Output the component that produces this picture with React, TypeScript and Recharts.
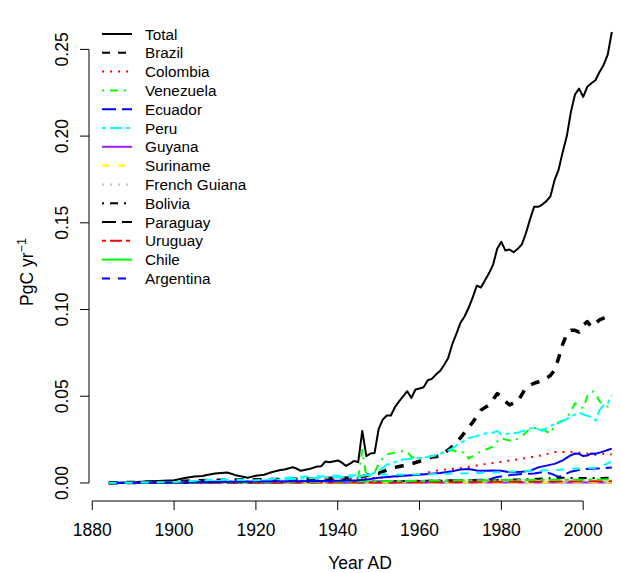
import { LineChart, Line, XAxis, YAxis, ReferenceLine, Legend } from "recharts";

const FONT = '"Liberation Sans", Arial, Helvetica, sans-serif';

// axis ticks
const xTicks = [1880, 1900, 1920, 1940, 1960, 1980, 2000];
const yTicks = [0, 0.05, 0.1, 0.15, 0.2, 0.25];

// series, [year, PgC/yr]
const total = [
  [1884, 0], [1888, 0.0003], [1892, 0.0007], [1896, 0.0011], [1900, 0.0016], [1903, 0.003],
  [1905, 0.0037], [1907, 0.004], [1908, 0.0046], [1910, 0.0054], [1913, 0.006], [1915, 0.0045],
  [1916, 0.004], [1918, 0.003], [1920, 0.0042], [1922, 0.0047], [1924, 0.0063], [1926, 0.0075],
  [1927, 0.0078], [1929, 0.0091], [1930, 0.0082], [1931, 0.007], [1933, 0.008], [1935, 0.0095],
  [1936, 0.0097], [1937, 0.0124], [1938, 0.012], [1940, 0.013], [1941, 0.0118], [1942, 0.0098],
  [1943, 0.0112], [1944, 0.0127], [1945, 0.012], [1946, 0.03], [1947, 0.0155], [1948, 0.017],
  [1949, 0.0173], [1950, 0.031], [1951, 0.0365], [1952, 0.0389], [1953, 0.0389], [1954, 0.0438],
  [1955, 0.047], [1956, 0.05], [1957, 0.0529], [1958, 0.049], [1959, 0.0539], [1960, 0.0545],
  [1961, 0.0552], [1962, 0.0592], [1963, 0.06], [1964, 0.0625], [1965, 0.0645], [1966, 0.068],
  [1967, 0.072], [1968, 0.08], [1969, 0.086], [1970, 0.0923], [1971, 0.096], [1972, 0.101],
  [1973, 0.107], [1974, 0.1138], [1975, 0.1127], [1976, 0.1169], [1977, 0.121], [1978, 0.126],
  [1979, 0.1352], [1980, 0.139], [1981, 0.134], [1982, 0.1346], [1983, 0.133], [1984, 0.135],
  [1985, 0.1375], [1986, 0.144], [1987, 0.152], [1988, 0.1592], [1989, 0.1592], [1990, 0.1605],
  [1991, 0.1625], [1992, 0.1653], [1993, 0.1746], [1994, 0.1807], [1995, 0.1909], [1996, 0.2],
  [1997, 0.214], [1998, 0.224], [1999, 0.2274], [2000, 0.2226], [2001, 0.2284], [2002, 0.2305],
  [2003, 0.2322], [2004, 0.237], [2005, 0.241], [2006, 0.247], [2007, 0.26],
];

const brazil = [
  [1884, 0], [1900, 0.0008], [1910, 0.0015], [1920, 0.0018], [1930, 0.0022], [1940, 0.0027],
  [1945, 0.003], [1948, 0.005], [1950, 0.0055], [1953, 0.0085], [1955, 0.0095], [1958, 0.011],
  [1960, 0.0125], [1963, 0.015], [1965, 0.0155], [1967, 0.019], [1969, 0.023], [1971, 0.029],
  [1973, 0.035], [1975, 0.042], [1977, 0.045], [1979, 0.0515], [1980, 0.05], [1981, 0.047],
  [1982, 0.045], [1984, 0.047], [1986, 0.055], [1988, 0.0575], [1990, 0.059], [1992, 0.062],
  [1993, 0.065], [1994, 0.072], [1995, 0.08], [1996, 0.086], [1997, 0.088], [1998, 0.088],
  [1999, 0.087], [2000, 0.091], [2001, 0.093], [2002, 0.09], [2003, 0.092], [2004, 0.094],
  [2005, 0.095], [2006, 0.096], [2007, 0.096],
];

const colombia = [
  [1884, 0], [1900, 0.0002], [1920, 0.0005], [1930, 0.001], [1940, 0.002], [1950, 0.003],
  [1955, 0.0038], [1960, 0.005], [1965, 0.0075], [1970, 0.0085], [1975, 0.0105], [1980, 0.0122],
  [1985, 0.014], [1990, 0.016], [1993, 0.0178], [1997, 0.018], [2000, 0.0172], [2003, 0.0163],
  [2005, 0.0168], [2007, 0.0165],
];

const venezuela = [
  [1884, 0], [1920, 0.0002], [1930, 0.0006], [1940, 0.001], [1944, 0.0012], [1945, 0.003],
  [1946, 0.019], [1947, 0.0035], [1948, 0.004], [1949, 0.006], [1950, 0.011], [1951, 0.014],
  [1952, 0.0165], [1954, 0.0175], [1956, 0.0185], [1957, 0.018], [1958, 0.015], [1960, 0.014],
  [1962, 0.015], [1964, 0.016], [1966, 0.018], [1968, 0.019], [1970, 0.017], [1971, 0.018],
  [1972, 0.014], [1974, 0.017], [1976, 0.019], [1978, 0.021], [1979, 0.024], [1980, 0.026],
  [1981, 0.025], [1983, 0.024], [1985, 0.027], [1986, 0.029], [1987, 0.0315], [1989, 0.032],
  [1990, 0.031], [1992, 0.0285], [1993, 0.033], [1994, 0.035], [1995, 0.036], [1996, 0.038],
  [1997, 0.041], [1998, 0.046], [1999, 0.045], [2000, 0.043], [2001, 0.05], [2002, 0.053],
  [2003, 0.052], [2004, 0.047], [2005, 0.045], [2006, 0.044], [2007, 0.046],
];

const ecuador = [
  [1884, 0], [1920, 0.0003], [1950, 0.0008], [1970, 0.0015], [1977, 0.002], [1979, 0.0035],
  [1981, 0.004], [1983, 0.0048], [1985, 0.0052], [1988, 0.0055], [1990, 0.0062], [1992, 0.0055],
  [1994, 0.0035], [1995, 0.0045], [1997, 0.0065], [2000, 0.008], [2003, 0.0083], [2005, 0.0085],
  [2007, 0.0089],
];

const peru = [
  [1884, 0], [1900, 0.0005], [1910, 0.0012], [1920, 0.0012], [1930, 0.0025], [1940, 0.0032],
  [1945, 0.0035], [1948, 0.005], [1950, 0.007], [1952, 0.0105], [1954, 0.012], [1956, 0.0135],
  [1958, 0.014], [1960, 0.0145], [1962, 0.015], [1964, 0.016], [1966, 0.0175], [1968, 0.02],
  [1970, 0.023], [1972, 0.026], [1974, 0.027], [1976, 0.0285], [1978, 0.029], [1979, 0.03],
  [1980, 0.028], [1982, 0.0285], [1984, 0.029], [1986, 0.0305], [1988, 0.032], [1990, 0.03],
  [1992, 0.033], [1994, 0.0345], [1996, 0.037], [1998, 0.0395], [1999, 0.0405], [2000, 0.0395],
  [2002, 0.038], [2003, 0.036], [2004, 0.042], [2005, 0.045], [2006, 0.046], [2007, 0.0505],
];

const guyana = [[1884, 0], [1950, 0.0001], [1980, 0.0002], [2007, 0.0003]];
const suriname = [[1884, 0], [1950, 0.0002], [1980, 0.0003], [2007, 0.0004]];
const frenchGuiana = [[1884, 0], [1960, 0.0001], [2007, 0.0002]];

const bolivia = [
  [1884, 0], [1920, 0.0003], [1950, 0.001], [1970, 0.0015], [1985, 0.002], [1995, 0.003],
  [2000, 0.0028], [2007, 0.003],
];

const paraguay = [[1884, 0], [1950, 0.0003], [1970, 0.0006], [1990, 0.0008], [2007, 0.001]];

const uruguay = [
  [1884, 0], [1920, 0.0005], [1950, 0.001], [1970, 0.0015], [1990, 0.0018], [2007, 0.002],
];

const chile = [
  [1884, 0], [1900, 0.0003], [1910, 0.0006], [1920, 0.0008], [1930, 0.001], [1940, 0.0013],
  [1945, 0.0015], [1948, 0.0023], [1950, 0.003], [1955, 0.004], [1960, 0.0048], [1965, 0.0058],
  [1968, 0.0068], [1970, 0.0078], [1972, 0.008], [1974, 0.0072], [1976, 0.007], [1978, 0.0072],
  [1980, 0.007], [1982, 0.0062], [1985, 0.0065], [1987, 0.007], [1989, 0.009], [1991, 0.01],
  [1993, 0.011], [1995, 0.013], [1997, 0.016], [1998, 0.017], [1999, 0.0168], [2000, 0.0155],
  [2001, 0.0158], [2002, 0.017], [2003, 0.0168], [2004, 0.0175], [2005, 0.0182], [2006, 0.019],
  [2007, 0.0198],
];

const argentina = [
  [1884, 0], [1900, 0.0005], [1905, 0.0012], [1910, 0.002], [1915, 0.0018], [1920, 0.0015],
  [1925, 0.0025], [1930, 0.0035], [1935, 0.0038], [1940, 0.0042], [1945, 0.0045], [1950, 0.005],
  [1955, 0.0048], [1960, 0.005], [1965, 0.0052], [1970, 0.0055], [1975, 0.0058], [1980, 0.0062],
  [1985, 0.0068], [1990, 0.0072], [1994, 0.0075], [1996, 0.008], [2000, 0.0085], [2003, 0.0088],
  [2005, 0.01], [2007, 0.0125],
];

const seriesNames = [
  "Total", "Brazil", "Colombia", "Venezuela", "Ecuador", "Peru", "Guyana", "Suriname",
  "French Guiana", "Bolivia", "Paraguay", "Uruguay", "Chile", "Argentina",
];
const seriesData = [
  total, brazil, colombia, venezuela, ecuador, peru, guyana, suriname,
  frenchGuiana, bolivia, paraguay, uruguay, chile, argentina,
];
// R line types 1..6 for each series
const seriesLty = [1, 2, 3, 4, 5, 6, 1, 2, 3, 4, 5, 6, 1, 2];
// colours of the drawn lines (R palette cycling) and of the legend keys
const lineColors = [
  "#000000", "#000000", "#FF0000", "#00FF00", "#0000FF", "#00FFFF", "#A020F0", "#FFFF00",
  "#BEBEBE", "#000000", "#FF0000", "#00FF00", "#0000FF", "#00FFFF",
];
const legendColors = [
  "#000000", "#000000", "#FF0000", "#00FF00", "#0000FF", "#00FFFF", "#A020F0", "#FFFF00",
  "#BEBEBE", "#000000", "#000000", "#FF0000", "#00FF00", "#0000FF",
];

const dashFor: Record<number, string | undefined> = {
  1: undefined,
  2: "8 8",
  3: "2 6",
  4: "2 6 8 6",
  5: "14 6",
  6: "4 4 12 4",
};

function XTick({ x, y, payload }: any) {
  return (
    <g>
      <line x1={x} x2={x} y1={y} y2={y + 9} stroke="#000" strokeWidth={1} />
      <text x={x} y={y + 35} textAnchor="middle" fontSize={17.5} fontFamily={FONT} fill="#000">
        {payload.value}
      </text>
    </g>
  );
}

function YTick({ x, y, payload }: any) {
  return (
    <g>
      <line x1={x} x2={x - 9} y1={y} y2={y} stroke="#000" strokeWidth={1} />
      <text
        transform={`translate(${x - 21},${y}) rotate(-90)`}
        textAnchor="middle"
        fontSize={17.5}
        fontFamily={FONT}
        fill="#000"
      >
        {Number(payload.value).toFixed(2)}
      </text>
    </g>
  );
}

function YTitle({ viewBox }: any) {
  const cx = viewBox.x + 33;
  const cy = 272;
  return (
    <text
      transform={`translate(${cx},${cy}) rotate(-90)`}
      textAnchor="middle"
      fontSize={17.5}
      fontFamily={FONT}
      fill="#000"
    >
      PgC yr
      <tspan dy={-7} fontSize={12.5}>
        −1
      </tspan>
    </text>
  );
}

function XTitle({ viewBox }: any) {
  return (
    <text
      x={viewBox.x + 271}
      y={viewBox.y + 68}
      textAnchor="middle"
      fontSize={17.5}
      fontFamily={FONT}
      fill="#000"
    >
      Year AD
    </text>
  );
}

function LegendBox() {
  return (
    <svg width={290} height={290}>
      {seriesNames.map((name, i) => {
        const y = 34 + i * 18.8;
        return (
          <g key={name}>
            <line
              x1={102}
              x2={132}
              y1={y}
              y2={y}
              stroke={legendColors[i]}
              strokeWidth={2}
              strokeDasharray={dashFor[seriesLty[i]]}
            />
            <text x={145} y={y + 5.5} fontSize={15.3} fontFamily={FONT} fill="#000">
              {name}
            </text>
          </g>
        );
      })}
    </svg>
  );
}

export default function App() {
  return (
    <div style={{ position: "absolute", left: 0, top: 0, width: 621, height: 573, background: "#fff" }}>
      <LineChart width={621} height={573} margin={{ top: 14, right: 1, bottom: 0, left: 0 }}>
        <XAxis
          type="number"
          dataKey="year"
          domain={[1879.2, 2009]}
          allowDataOverflow
          ticks={xTicks}
          axisLine={false}
          tickLine={false}
          tickSize={0}
          tickMargin={0}
          height={72}
          tick={<XTick />}
          label={{ content: <XTitle /> }}
        />
        <YAxis
          type="number"
          domain={[-0.0104, 0.2704]}
          allowDataOverflow
          ticks={yTicks}
          axisLine={false}
          tickLine={false}
          tickSize={0}
          tickMargin={0}
          width={89}
          tick={<YTick />}
          label={{ content: <YTitle /> }}
        />
        <ReferenceLine
          segment={[{ x: 1880, y: -0.0104 }, { x: 2000, y: -0.0104 }]}
          stroke="#000"
          strokeWidth={1}
          ifOverflow="visible"
        />
        <ReferenceLine
          segment={[{ x: 1879.2, y: 0 }, { x: 1879.2, y: 0.25 }]}
          stroke="#000"
          strokeWidth={1}
          ifOverflow="visible"
        />
        {seriesNames.map((name, i) => (
          <Line
            key={name}
            name={name}
            data={seriesData[i].map(([year, value]) => ({ year, value }))}
            dataKey="value"
            type="linear"
            stroke={lineColors[i]}
            strokeWidth={name === "Brazil" ? 3.5 : 2}
            strokeDasharray={name === "Brazil" ? "9 9" : dashFor[seriesLty[i]]}
            strokeLinejoin="round"
            dot={false}
            activeDot={false}
            isAnimationActive={false}
            legendType="none"
          />
        ))}
        <Legend
          layout="vertical"
          align="center"
          verticalAlign="middle"
          wrapperStyle={{ left: 0, top: 0, width: 290, height: 290 }}
          content={() => <LegendBox />}
        />
      </LineChart>
    </div>
  );
}
